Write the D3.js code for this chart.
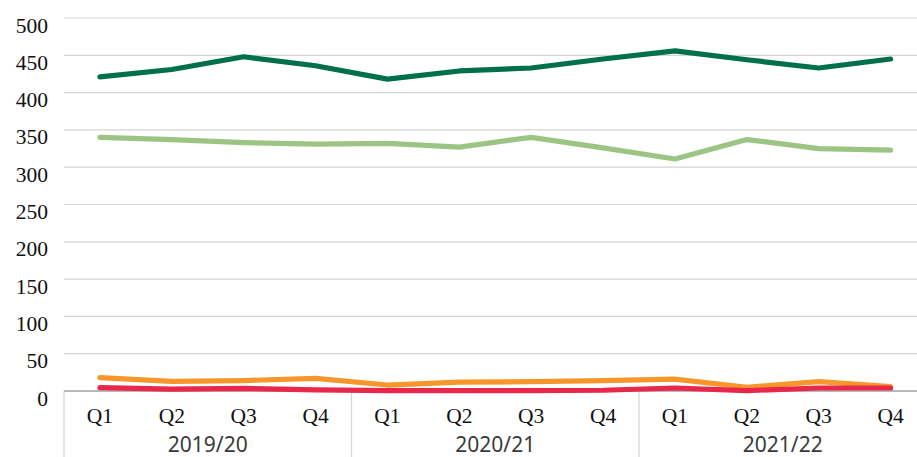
<!DOCTYPE html>
<html>
<head>
<meta charset="utf-8">
<script src="https://cdn.jsdelivr.net/npm/d3@7"></script>
<style>
  html, body { margin: 0; padding: 0; background: #fff; overflow: hidden; }
  svg { display: block; }
</style>
</head>
<body>
<svg id="chart" width="917" height="457"></svg>
<script>
// ---- Data ----
const years = ["2019/20", "2020/21", "2021/22"];
const quarters = ["Q1", "Q2", "Q3", "Q4"];
const yTicks = [0, 50, 100, 150, 200, 250, 300, 350, 400, 450, 500];

const seriesDarkGreen  = [421, 431, 448, 436, 418, 429, 433, 445, 456, 444, 433, 445];
const seriesLightGreen = [340, 337, 333, 331, 332, 327, 340, 326, 311, 337, 325, 323];
const seriesOrange     = [18, 13, 14, 17, 8, 12, 12.5, 14, 16, 5, 12.5, 6];
const seriesRed        = [4.5, 2.5, 3.5, 1.5, 0.5, 0.5, 0.5, 1, 4, 0.5, 4, 4];

const seriesColors = ["#00704a", "#9cc584", "#f7972b", "#e9274a"];

// ---- Build ----
const SERIF = "'Liberation Serif'";
const SANS = "'Noto Sans'";
const categories = [];
years.forEach(yr => quarters.forEach(q => categories.push(yr + "|" + q)));
const series = [seriesLightGreen, seriesDarkGreen, seriesOrange, seriesRed];
const colors = [seriesColors[1], seriesColors[0], seriesColors[2], seriesColors[3]];

const svg = d3.select("#chart");
const plotLeft = 64, plotRight = 926.5, plotTop = 18, plotBottom = 391;

const x = d3.scaleBand().domain(categories).range([plotLeft, plotRight]).padding(0);
const y = d3.scaleLinear().domain([0, 500]).range([plotBottom, plotTop]);

// gridlines
svg.append("g").selectAll("line")
  .data(yTicks.filter(t => t > 0))
  .join("line")
  .attr("x1", plotLeft).attr("x2", 917)
  .attr("y1", d => y(d)).attr("y2", d => y(d))
  .attr("stroke", "#d4d4d4").attr("stroke-width", 1.2);

// y labels
svg.append("g").selectAll("text")
  .data(yTicks)
  .join("text")
  .style("font-family", SERIF)
  .style("font-size", "21.5px")
  .attr("x", 48)
  .attr("y", d => y(d) + 14.5)
  .attr("text-anchor", "end")
  .attr("fill", "#111")
  .text(d => d);

// group separators
const bw = x.bandwidth();
const sepX = [0, 4, 8, 12].map(i => plotLeft + i * bw);
svg.append("g").selectAll("line")
  .data(sepX)
  .join("line")
  .attr("x1", d => d).attr("x2", d => d)
  .attr("y1", plotBottom).attr("y2", 457)
  .attr("stroke", "#d4d4d4").attr("stroke-width", 1.2);

// zero axis
svg.append("line")
  .attr("x1", plotLeft).attr("x2", 917)
  .attr("y1", y(0)).attr("y2", y(0))
  .attr("stroke", "#a0a0a0").attr("stroke-width", 1.5);

// quarter labels
svg.append("g").selectAll("text")
  .data(categories)
  .join("text")
  .style("font-family", SERIF)
  .style("font-size", "21.5px")
  .attr("x", d => x(d) + bw / 2)
  .attr("y", 423)
  .attr("text-anchor", "middle")
  .attr("fill", "#111")
  .text(d => d.split("|")[1]);

// year labels
svg.append("g").selectAll("text")
  .data(years)
  .join("text")
  .style("font-family", SANS)
  .style("font-size", "21px")
  .attr("x", (d, i) => plotLeft + (i * 4 + 2) * bw)
  .attr("y", 452)
  .attr("text-anchor", "middle")
  .attr("fill", "#3a3a3a")
  .text(d => d);

// lines
const line = d3.line()
  .x((d, i) => x(categories[i]) + bw / 2)
  .y(d => y(d));

svg.append("g").selectAll("path")
  .data(series)
  .join("path")
  .attr("d", d => line(d))
  .attr("fill", "none")
  .attr("stroke", (d, i) => colors[i])
  .attr("stroke-width", 5.2)
  .attr("stroke-linejoin", "round")
  .attr("stroke-linecap", "round");
</script>
</body>
</html>
